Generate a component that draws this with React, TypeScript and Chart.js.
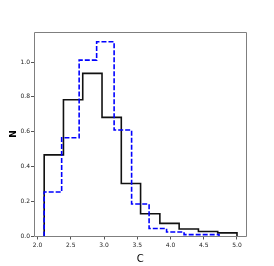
import React, { useEffect, useRef } from "react";
import { Chart, registerables } from "chart.js";

Chart.register(...registerables);

const blackEdges = [2.1, 2.39, 2.68, 2.97, 3.26, 3.55, 3.84, 4.13, 4.42, 4.71, 5.0];
const blackValues = [0.468, 0.784, 0.935, 0.683, 0.304, 0.13, 0.075, 0.043, 0.029, 0.021];
const blueEdges = [2.1, 2.363, 2.626, 2.889, 3.152, 3.415, 3.678, 3.941, 4.204, 4.467, 4.73];
const blueValues = [0.255, 0.566, 1.011, 1.116, 0.61, 0.186, 0.046, 0.026, 0.011, 0.011];
const xTicks = [2.0, 2.5, 3.0, 3.5, 4.0, 4.5, 5.0];
const yTicks = [0.0, 0.2, 0.4, 0.6, 0.8, 1.0];
const xLabel = "C";
const yLabel = "N";

function stepPoints(edges: number[], values: number[]) {
  const pts: { x: number; y: number }[] = [{ x: edges[0], y: 0 }];
  values.forEach((v, i) => pts.push({ x: edges[i], y: v }));
  pts.push({ x: edges[edges.length - 1], y: values[values.length - 1] });
  pts.push({ x: edges[edges.length - 1], y: 0 });
  return pts;
}

const framePlugin = {
  id: "frame",
  afterDraw(chart: any) {
    const { ctx, chartArea } = chart;
    ctx.save();
    ctx.strokeStyle = "#7f7f7f";
    ctx.lineWidth = 1;
    const l = Math.round(chartArea.left) + 0.5;
    const t = Math.round(chartArea.top) + 0.5;
    const r = Math.round(chartArea.right) - 0.5;
    const b = Math.round(chartArea.bottom) - 0.5;
    ctx.beginPath();
    ctx.moveTo(l, b);
    ctx.lineTo(l, t);
    ctx.lineTo(r, t);
    ctx.lineTo(r, b);
    ctx.lineTo(l, b);
    ctx.stroke();
    ctx.fillStyle = "#000";
    ctx.font = "10px 'DejaVu Sans'";
    ctx.textAlign = "center";
    ctx.textBaseline = "middle";
    ctx.fillText(xLabel, (chartArea.left + chartArea.right) / 2, 259);
    ctx.translate(13.5, (chartArea.top + chartArea.bottom) / 2);
    ctx.rotate(-Math.PI / 2);
    ctx.font = "bold 9px 'DejaVu Sans'";
    ctx.fillText(yLabel, 0, 0);
    ctx.restore();
  },
};

export default function App() {
  const ref = useRef<HTMLCanvasElement>(null);
  useEffect(() => {
    if (!ref.current) return;
    const chart = new Chart(ref.current, {
      type: "line",
      data: {
        datasets: [
          {
            data: stepPoints(blueEdges, blueValues),
            borderColor: "#0000ff",
            borderWidth: 1.6,
            borderDash: [5, 2],
            stepped: "before",
            pointRadius: 0,
            fill: false,
          },
          {
            data: stepPoints(blackEdges, blackValues),
            borderColor: "#111111",
            borderWidth: 1.6,
            stepped: "before",
            pointRadius: 0,
            fill: false,
          },
        ],
      },
      options: {
        animation: false,
        responsive: false,
        events: [],
        layout: { padding: { left: 0, top: 31.5, right: 27.3, bottom: 0 } },
        plugins: { legend: { display: false }, tooltip: { enabled: false } },
        scales: {
          x: {
            type: "linear",
            min: 1.947,
            max: 5.146,
            afterBuildTicks: (s: any) => {
              s.ticks = xTicks.map((v) => ({ value: v }));
            },
            afterFit: (s: any) => {
              s.height = 29.5;
            },
            grid: { drawOnChartArea: false, tickLength: 3, color: "#555", tickColor: "#555" },
            border: { display: false },
            ticks: {
              color: "#222",
              font: { family: "DejaVu Sans", size: 6 },
              padding: 2,
              maxRotation: 0,
              autoSkip: false,
              callback: (v: any) => Number(v).toFixed(1),
            },
          },
          y: {
            type: "linear",
            min: 0,
            max: 1.175,
            afterBuildTicks: (s: any) => {
              s.ticks = yTicks.map((v) => ({ value: v }));
            },
            afterFit: (s: any) => {
              s.width = 34;
            },
            grid: { drawOnChartArea: false, tickLength: 3, color: "#555", tickColor: "#555" },
            border: { display: false },
            ticks: {
              color: "#222",
              font: { family: "DejaVu Sans", size: 6 },
              padding: 1,
              autoSkip: false,
              callback: (v: any) => Number(v).toFixed(1),
            },
          },
        },
      },
      plugins: [framePlugin],
    });
    return () => chart.destroy();
  }, []);
  return (
    <div style={{ position: "absolute", left: 0, top: 0 }}>
      <canvas ref={ref} width={274} height={266} style={{ display: "block" }} />
    </div>
  );
}
